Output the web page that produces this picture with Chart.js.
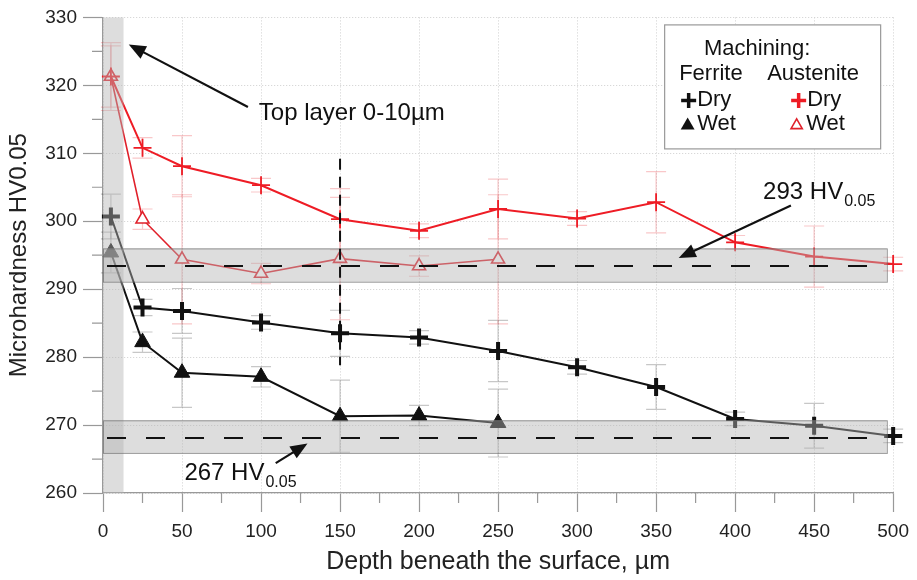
<!DOCTYPE html>
<html>
<head>
<meta charset="utf-8">
<script src="https://cdn.jsdelivr.net/npm/chart.js@4.4.1/dist/chart.umd.min.js"></script>
<style>
  html, body { margin: 0; padding: 0; background: #fff; }
  #wrap { width: 917px; height: 580px; }
</style>
</head>
<body>
<div id="wrap"><canvas id="chart" width="917" height="580"></canvas></div>
<script>
const FONT = '"Liberation Sans", Arial, sans-serif';

// depth beneath the surface, µm
const depth = [5, 25, 50, 100, 150, 200, 250, 300, 350, 400, 450, 500];
const depthWet = [5, 25, 50, 100, 150, 200, 250];

// microhardness HV0.05
const ferriteDry = [300.7, 287.3, 286.8, 285.1, 283.5, 282.9, 280.9, 278.5, 275.6, 270.9, 269.9, 268.4];
const ferriteWet = [295.4, 282.2, 277.7, 277.1, 271.3, 271.4, 270.3];
const austeniteDry = [321.3, 310.8, 308.1, 305.3, 300.3, 298.6, 301.8, 300.4, 302.8, 296.9, 294.8, 293.7];
const austeniteWet = [321.3, 300.3, 294.4, 292.3, 294.5, 293.4, 294.4];

// error bar half-widths
const ferriteDryErr = [3.3, 1.2, 3.3, 1.0, 3.4, 1.0, 4.5, 1.0, 3.3, 1.0, 3.3, 1.0];
const ferriteWetErr = [3, 1.5, 5.1, 1.5, 5.3, 1.5, 5];
const austeniteDryErr = [4.5, 1.5, 4.5, 1.0, 4.5, 1.0, 4.4, 1.0, 4.5, 1.0, 4.5, 1.0];
const austeniteWetErr = [5, 1.5, 9.5, 1.5, 9, 1.5, 9.5];

// reference levels
const upperBand = [291.1, 296.0];
const lowerBand = [265.9, 270.7];
const upperRef = 293.4;
const lowerRef = 268.1;
const topLayer = [0, 13];
const bandEnd = 496;
const markerLine = { x: 150, from: 309.2, to: 278.8 };

function toXY(xs, ys) {
  return xs.map((x, i) => ({ x: x, y: ys[i] }));
}

function arrow(ctx, x1, y1, x2, y2) {
  const ang = Math.atan2(y2 - y1, x2 - x1);
  const head = 17, half = 7;
  ctx.beginPath();
  ctx.moveTo(x1, y1);
  ctx.lineTo(x2 - Math.cos(ang) * head * 0.8, y2 - Math.sin(ang) * head * 0.8);
  ctx.stroke();
  ctx.beginPath();
  ctx.moveTo(x2, y2);
  ctx.lineTo(x2 - head * Math.cos(ang) + half * Math.sin(ang), y2 - head * Math.sin(ang) - half * Math.cos(ang));
  ctx.lineTo(x2 - head * Math.cos(ang) - half * Math.sin(ang), y2 - head * Math.sin(ang) + half * Math.cos(ang));
  ctx.closePath();
  ctx.fill();
}

function subLabel(ctx, x, y, main, sub) {
  ctx.font = '24px ' + FONT;
  ctx.textAlign = 'left';
  ctx.textBaseline = 'middle';
  ctx.fillText(main, x, y);
  const w = ctx.measureText(main).width;
  ctx.font = '16px ' + FONT;
  ctx.fillText(sub, x + w + 1, y + 9);
}

function plus(ctx, x, y, r, w, color) {
  ctx.save();
  ctx.strokeStyle = color;
  ctx.lineWidth = w;
  ctx.beginPath();
  ctx.moveTo(x - r, y); ctx.lineTo(x + r, y);
  ctx.moveTo(x, y - r); ctx.lineTo(x, y + r);
  ctx.stroke();
  ctx.restore();
}

function tri(ctx, x, y, r, fill, stroke, w) {
  ctx.save();
  ctx.beginPath();
  ctx.moveTo(x, y - r);
  ctx.lineTo(x + r * 0.866, y + r * 0.5);
  ctx.lineTo(x - r * 0.866, y + r * 0.5);
  ctx.closePath();
  ctx.fillStyle = fill;
  ctx.fill();
  if (stroke) { ctx.strokeStyle = stroke; ctx.lineWidth = w; ctx.stroke(); }
  ctx.restore();
}

const errorBars = {
  id: 'errorBars',
  beforeDatasetsDraw(chart) {
    const { ctx, scales: { x, y } } = chart;
    chart.data.datasets.forEach(ds => {
      ctx.save();
      ctx.strokeStyle = ds.errColor;
      ctx.lineWidth = 1.2;
      ds.data.forEach((p, i) => {
        const e = ds.err[i];
        const px = x.getPixelForValue(p.x);
        const y1 = y.getPixelForValue(p.y + e);
        const y2 = y.getPixelForValue(p.y - e);
        ctx.beginPath();
        ctx.moveTo(px, y1); ctx.lineTo(px, y2);
        ctx.moveTo(px - 10, y1); ctx.lineTo(px + 10, y1);
        ctx.moveTo(px - 10, y2); ctx.lineTo(px + 10, y2);
        ctx.stroke();
      });
      ctx.restore();
    });
  }
};

const overlay = {
  id: 'overlay',
  afterDatasetsDraw(chart) {
    const { ctx, chartArea: a, scales: { x, y } } = chart;
    ctx.save();

    // shaded bands
    ctx.fillStyle = 'rgba(180,180,180,0.45)';
    ctx.strokeStyle = 'rgba(110,110,110,0.7)';
    ctx.lineWidth = 1;
    const xl = x.getPixelForValue(topLayer[0]);
    const xr = x.getPixelForValue(topLayer[1]);
    ctx.fillRect(xl, a.top, xr - xl, a.bottom - a.top);
    [upperBand, lowerBand].forEach(b => {
      const yt = y.getPixelForValue(b[1]);
      const yb = y.getPixelForValue(b[0]);
      const xe = x.getPixelForValue(bandEnd);
      ctx.fillRect(xl, yt, xe - xl, yb - yt);
      ctx.strokeRect(xl + 0.5, yt + 0.5, xe - xl, yb - yt);
    });

    // dashed reference lines
    ctx.strokeStyle = '#111';
    ctx.lineWidth = 2;
    ctx.setLineDash([19, 20]);
    [upperRef, lowerRef].forEach(v => {
      const py = y.getPixelForValue(v);
      ctx.beginPath();
      ctx.moveTo(x.getPixelForValue(0) + 4, py);
      ctx.lineTo(x.getPixelForValue(bandEnd), py);
      ctx.stroke();
    });
    ctx.setLineDash([11, 7]);
    const mx = x.getPixelForValue(markerLine.x);
    ctx.beginPath();
    ctx.moveTo(mx, y.getPixelForValue(markerLine.from));
    ctx.lineTo(mx, y.getPixelForValue(markerLine.to));
    ctx.stroke();
    ctx.setLineDash([]);

    // minor ticks
    ctx.strokeStyle = '#999';
    ctx.lineWidth = 1.2;
    ctx.beginPath();
    for (let v = 25; v < 500; v += 50) {
      const px = x.getPixelForValue(v);
      ctx.moveTo(px, a.bottom); ctx.lineTo(px, a.bottom + 10);
    }
    for (let v = 265; v < 330; v += 10) {
      const py = y.getPixelForValue(v);
      ctx.moveTo(a.left - 11, py); ctx.lineTo(a.left, py);
    }
    ctx.stroke();

    // annotations
    ctx.fillStyle = '#111';
    ctx.strokeStyle = '#111';
    ctx.lineWidth = 2.2;
    arrow(ctx, x.getPixelForValue(91.7), y.getPixelForValue(316.8), x.getPixelForValue(16.3), y.getPixelForValue(326.0));
    arrow(ctx, x.getPixelForValue(435.3), y.getPixelForValue(302.3), x.getPixelForValue(364.3), y.getPixelForValue(294.6));
    arrow(ctx, x.getPixelForValue(109.3), y.getPixelForValue(264.4), x.getPixelForValue(129.4), y.getPixelForValue(267.3));

    ctx.font = '24px ' + FONT;
    ctx.textAlign = 'left';
    ctx.textBaseline = 'middle';
    ctx.fillText('Top layer 0-10\u00b5m', x.getPixelForValue(98.6), y.getPixelForValue(315.9));
    subLabel(ctx, x.getPixelForValue(417.7), y.getPixelForValue(304.2), '293 HV', '0.05');
    subLabel(ctx, x.getPixelForValue(51.5), y.getPixelForValue(262.9), '267 HV', '0.05');

    // legend
    const L = a.right - 229, T = a.top + 7;
    ctx.fillStyle = '#fff';
    ctx.fillRect(L, T, 216, 124);
    ctx.strokeStyle = '#999';
    ctx.lineWidth = 1.2;
    ctx.strokeRect(L + 0.5, T + 0.5, 216, 124);
    ctx.fillStyle = '#111';
    ctx.font = '22px ' + FONT;
    ctx.textAlign = 'center';
    ctx.fillText('Machining:', L + 93, T + 25);
    ctx.textAlign = 'left';
    ctx.fillText('Ferrite', L + 15, T + 50);
    ctx.fillText('Austenite', L + 103, T + 50);
    ctx.fillText('Dry', L + 33, T + 76);
    ctx.fillText('Wet', L + 33, T + 100);
    ctx.fillText('Dry', L + 143, T + 76);
    ctx.fillText('Wet', L + 142, T + 100);
    plus(ctx, L + 24.5, T + 76, 7.5, 3.5, '#111');
    plus(ctx, L + 134.5, T + 76, 7.5, 3.5, '#ee1c25');
    tri(ctx, L + 23.5, T + 101, 8, '#111');
    tri(ctx, L + 132.5, T + 101, 6.5, '#fff', '#e0202a', 1.6);

    ctx.restore();
  }
};

const ctx = document.getElementById('chart').getContext('2d');
new Chart(ctx, {
  type: 'scatter',
  data: {
    datasets: [
      {
        label: 'Ferrite Dry',
        data: toXY(depth, ferriteDry),
        err: ferriteDryErr,
        errColor: 'rgba(0,0,0,0.22)',
        showLine: true,
        borderColor: '#111',
        borderWidth: 2,
        pointStyle: 'cross',
        pointRadius: 9,
        pointBorderWidth: 4,
        pointBorderColor: '#111',
        clip: false
      },
      {
        label: 'Ferrite Wet',
        data: toXY(depthWet, ferriteWet),
        err: ferriteWetErr,
        errColor: 'rgba(0,0,0,0.22)',
        showLine: true,
        borderColor: '#111',
        borderWidth: 2,
        pointStyle: 'triangle',
        pointRadius: 9,
        pointBorderWidth: 1,
        pointBorderColor: '#111',
        pointBackgroundColor: '#111',
        clip: false
      },
      {
        label: 'Austenite Dry',
        data: toXY(depth, austeniteDry),
        err: austeniteDryErr,
        errColor: 'rgba(230,30,40,0.25)',
        showLine: true,
        borderColor: '#ee1c25',
        borderWidth: 2,
        pointStyle: 'cross',
        pointRadius: 9,
        pointBorderWidth: 1.8,
        pointBorderColor: '#ee1c25',
        clip: false
      },
      {
        label: 'Austenite Wet',
        data: toXY(depthWet, austeniteWet),
        err: austeniteWetErr,
        errColor: 'rgba(230,30,40,0.25)',
        showLine: true,
        borderColor: '#e0202a',
        borderWidth: 1.6,
        pointStyle: 'triangle',
        pointRadius: 7.5,
        pointBorderWidth: 1.6,
        pointBorderColor: '#e0202a',
        pointBackgroundColor: '#fff',
        clip: false
      }
    ]
  },
  options: {
    responsive: false,
    animation: false,
    devicePixelRatio: 1,
    layout: { padding: { top: 16, right: 18, left: 0, bottom: 0 } },
    plugins: {
      legend: { display: false },
      tooltip: { enabled: false }
    },
    scales: {
      x: {
        type: 'linear',
        min: 0,
        max: 500,
        afterFit(s) { s.height = 87; },
        ticks: { stepSize: 50, padding: 8, color: '#222', font: { family: FONT, size: 19 } },
        grid: { color: '#cfcfcf', lineWidth: 1, tickLength: 19, tickColor: '#999', tickWidth: 1.2 },
        border: { color: '#999', width: 1.2, dash: [1, 2] },
        title: { display: true, text: 'Depth beneath the surface, \u00b5m', color: '#222', font: { family: FONT, size: 25 }, padding: { top: 0, bottom: 3 } }
      },
      y: {
        min: 260,
        max: 330,
        afterFit(s) { s.width = 103; },
        ticks: { stepSize: 10, padding: 6, color: '#222', font: { family: FONT, size: 19 } },
        grid: { color: '#cfcfcf', lineWidth: 1, tickLength: 20, tickColor: '#999', tickWidth: 1.2 },
        border: { color: '#999', width: 1.2, dash: [1, 2] },
        title: { display: true, text: 'Microhardness HV0.05', color: '#222', font: { family: FONT, size: 24 }, padding: { top: 5, bottom: 0 } }
      }
    }
  },
  plugins: [errorBars, overlay]
});
</script>
</body>
</html>
